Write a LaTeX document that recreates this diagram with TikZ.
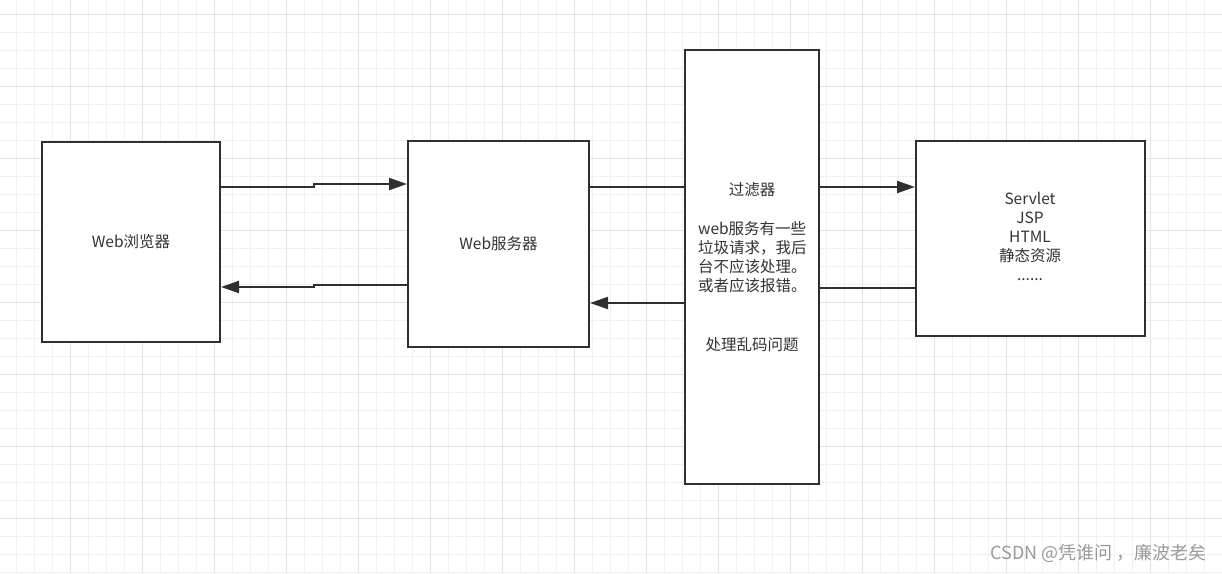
\documentclass[tikz,border=0pt]{standalone}
\usepackage{fontspec}
\setmainfont{Noto Sans CJK SC}
\usetikzlibrary{arrows.meta}
\definecolor{ink}{HTML}{2F2F2F}
\definecolor{txt}{HTML}{333333}
\definecolor{gminor}{HTML}{F1F1F1}
\definecolor{gmajor}{HTML}{E2E2E2}
\definecolor{wm}{HTML}{9A9A9A}
\tikzset{
  box/.style={draw=ink, line width=2pt, fill=white, inner sep=0pt},
  conn/.style={draw=ink, line width=2pt},
  arr/.style={conn, -{Triangle[length=18pt,width=12pt]}},
  lbl/.style={text=txt, font=\fontsize{15.5}{19}\selectfont, inner sep=0pt},
}
\begin{document}
\begin{tikzpicture}[x=1pt,y=-1pt]
\useasboundingbox (0,0) rectangle (1222,573);
\fill[white] (0,0) rectangle (1222,573);
% grid
\foreach \i in {0,...,67} {\draw[gminor, line width=1pt] ({16+18*\i},0) -- ({16+18*\i},573);}
\foreach \i in {0,...,31} {\draw[gminor, line width=1pt] (0,{14+18*\i}) -- (1222,{14+18*\i});}
\foreach \i in {0,...,17} {\draw[gmajor, line width=1pt] ({-2+72*\i},0) -- ({-2+72*\i},573);}
\foreach \i in {0,...,7} {\draw[gmajor, line width=1pt] (0,{14+72*\i}) -- (1222,{14+72*\i});}
% boxes
\node[box, minimum width=178pt, minimum height=200pt] (brow) at (131,242) {};
\node[box, minimum width=181pt, minimum height=206pt] (serv) at (498.5,244) {};
\node[box, minimum width=134pt, minimum height=434pt] (filt) at (752,267) {};
\node[box, minimum width=229pt, minimum height=195pt] (res) at (1030.5,238.5) {};
% texts
\node[lbl] (tbrow) at (brow.center) {Web浏览器};
\node[lbl] (tserv) at (serv.center) {Web服务器};
\node[lbl] (tfilt) at (752,190) {过滤器};
\node[lbl, anchor=north west, align=left] (tpara) at (698,221) {web服务有一些\\垃圾请求，我后\\台不应该处理。\\或者应该报错。};
\node[lbl] (tgarb) at (752,345) {处理乱码问题};
\node[lbl, align=center, anchor=north] (tres) at (1030,192) {Servlet\\JSP\\HTML\\静态资源\\......};
\node[text=wm, font=\fontsize{18}{22}\selectfont, inner sep=0pt, anchor=east] (wmk) at (1207,553) {CSDN @凭谁问 ，廉波老矣};
% connector helper coordinates
\coordinate (a1) at (314,187);
\coordinate (a2) at (314,184);
\coordinate (b1) at (314,285);
\coordinate (b2) at (314,287);
\coordinate (c1) at (0,187);
\coordinate (d1) at (0,303);
\coordinate (e1) at (0,288);
% connectors
\draw[arr] (brow.east |- a1) -- (a1) -- (a2) -- (serv.west |- a2);
\draw[arr] (serv.west |- b1) -- (b1) -- (b2) -- (brow.east |- b2);
\draw[conn] (serv.east |- c1) -- (filt.west |- c1);
\draw[arr] (filt.east |- c1) -- (res.west |- c1);
\draw[arr] (filt.west |- d1) -- (serv.east |- d1);
\draw[conn] (res.west |- e1) -- (filt.east |- e1);
\end{tikzpicture}
\end{document}
